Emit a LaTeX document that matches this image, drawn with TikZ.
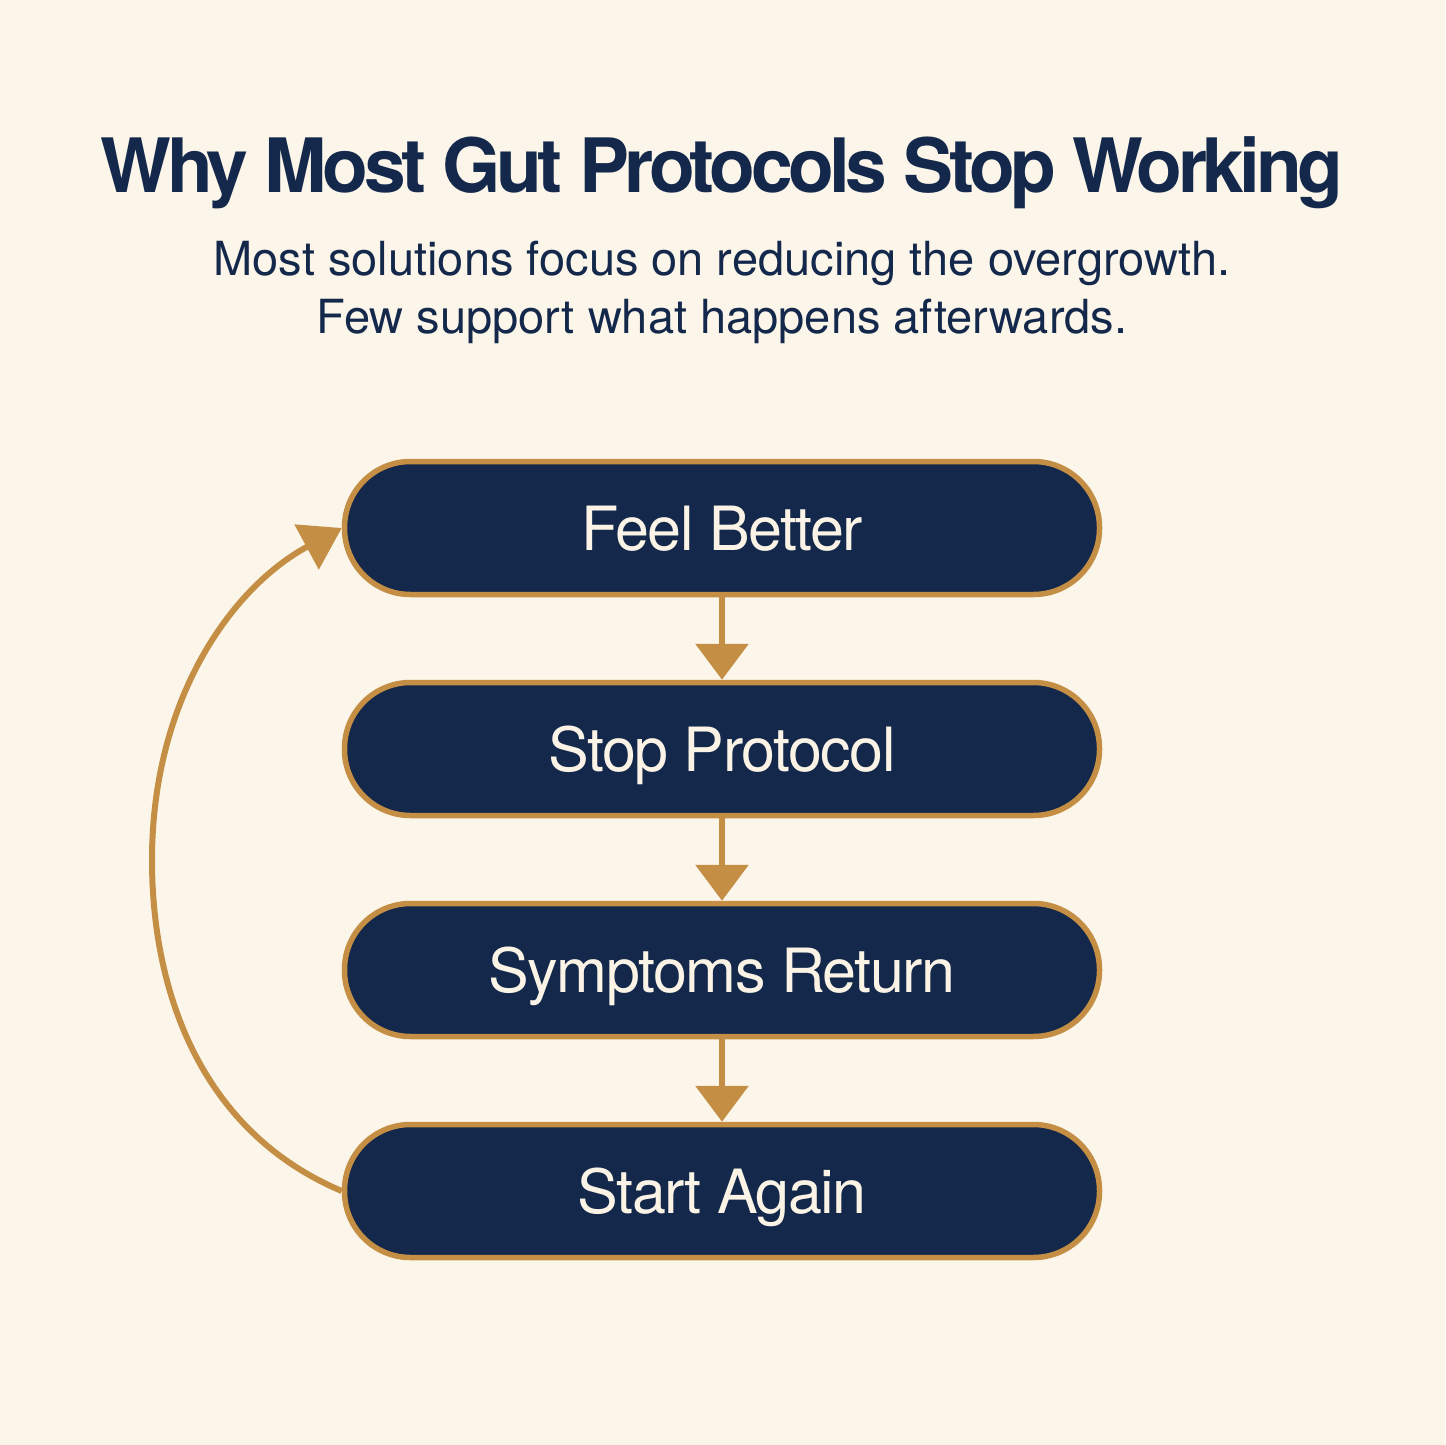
\documentclass[tikz,border=0pt]{standalone}
\usepackage{fontspec}
\setmainfont{TeX Gyre Heros}
\usetikzlibrary{arrows.meta}
\definecolor{bg}{HTML}{FBF5EA}
\definecolor{navy}{HTML}{13284A}
\definecolor{gold}{HTML}{C48F45}
\definecolor{cream}{HTML}{FAF3E6}
\tikzset{
  stepbox/.style={draw=gold, line width=5.5pt, fill=navy, minimum width=755pt, minimum height=133pt,
    rounded corners=66pt, text=cream, font=\fontsize{61}{70}\selectfont\addfontfeatures{LetterSpace=-2.5}, text height=44pt, text depth=0pt, inner sep=0pt},
  subtext/.style={anchor=base, text=navy, font=\fontsize{47}{58}\selectfont},
  flowarrow/.style={draw=gold, line width=6.5pt, -{Triangle[width=52pt,length=36pt]}},
  looparrow/.style={draw=gold, line width=6pt, -{Triangle[width=50pt,length=40pt]}},
}
\begin{document}
\begin{tikzpicture}[x=1pt,y=1pt]
\useasboundingbox (0,0) rectangle (1445,-1445);
\fill[bg] (0,0) rectangle (1445,-1445);
\node[anchor=base, text=navy, font=\bfseries\fontsize{75}{90}\selectfont\addfontfeatures{LetterSpace=-6}] (title) at (722,-192) {Why Most Gut Protocols Stop Working};
\node[subtext] (sub1) at (722,-275) {Most solutions focus on reducing the overgrowth.};
\node[subtext] (sub2) at (722,-333) {Few support what happens afterwards.};
\node[stepbox] (b1) at (722,-528) {Feel Better};
\node[stepbox] (b2) at (722,-749) {Stop Protocol};
\node[stepbox] (b3) at (722,-970) {Symptoms Return};
\node[stepbox] (b4) at (722,-1191) {Start Again};
\draw[flowarrow] (b1.south) -- (b2.north);
\draw[flowarrow] (b2.south) -- (b3.north);
\draw[flowarrow] (b3.south) -- (b4.north);
\coordinate (loopL) at (152,-860);
\draw[looparrow] (b4.west) .. controls +(-142,60) and +(0,-130) .. (loopL) .. controls +(0,160) and +(-111,-60) .. (b1.west);
\end{tikzpicture}
\end{document}
